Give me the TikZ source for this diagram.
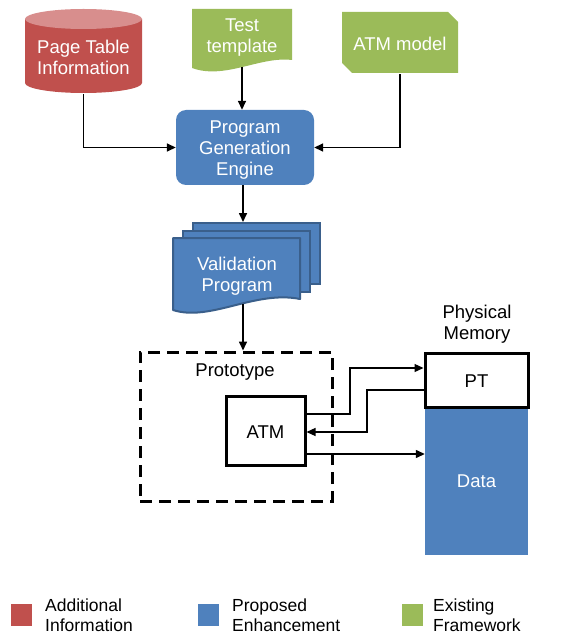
\documentclass[tikz,border=0pt]{standalone}
\usepackage{fontspec}
\setmainfont{Liberation Sans}
\usetikzlibrary{arrows.meta}
\definecolor{cred}{HTML}{C0504D}
\definecolor{credtop}{HTML}{D88E8D}
\definecolor{cblue}{HTML}{4F81BD}
\definecolor{cbluedark}{HTML}{3A5F8B}
\definecolor{cgreen}{HTML}{9BBB59}
\tikzset{
  txt/.style={font=\fontsize{18.5}{21}\selectfont, align=center, inner sep=0pt},
  wtxt/.style={txt, text=white},
  frame/.style={draw=black, line width=3pt, inner sep=0pt},
  conn/.style={line width=1.6pt, -{Triangle[length=9pt,width=8pt]}},
  thinconn/.style={line width=1.3pt, -{Triangle[length=9pt,width=8pt]}},
  legtxt/.style={font=\fontsize{17.5}{20}\selectfont, align=left, anchor=west, inner sep=0pt},
  swatch/.style={minimum width=21pt, minimum height=22pt, inner sep=0pt},
}
\begin{document}
\begin{tikzpicture}[x=1pt,y=-1pt]
\useasboundingbox (0,0) rectangle (570,636);

% Page table cylinder
\fill[cred] (25,19) -- (25,83) arc[start angle=180, end angle=360, x radius=58.5pt, y radius=10pt] -- (142,19) -- cycle;
\fill[credtop] (83.5,19) ellipse[x radius=58.5pt, y radius=10pt];
\node[wtxt, minimum width=117pt, minimum height=74pt] (pti) at (83.5,57) {Page Table\\Information};

% Test template document
\fill[cgreen] (192,9) -- (292,9) -- (292,60) .. controls (260,56) and (225,80) .. (192,68) -- cycle;
\node[wtxt] (tt) at (242,38) {Test\\template};
\coordinate (ttbot) at (242,67);

% ATM model (snipped corners)
\fill[cgreen] (342,12) -- (448,12) -- (458,22) -- (458,73) -- (352,73) -- (342,63) -- cycle;
\node[wtxt, minimum width=116pt, minimum height=61pt] (atmm) at (400,43.5) {ATM model};

% Program generation engine
\node[wtxt, fill=cblue, rounded corners=10pt, minimum width=138pt, minimum height=75pt, text depth=0pt] (pge) at (245,147.5) {};
\node[wtxt] (pgetxt) at (245,150.5) {Program\\Generation\\Engine};

% Validation program (stack of documents)
\node[fill=cblue, draw=cbluedark, line width=2pt, minimum width=127pt, minimum height=61pt, inner sep=0pt] (vback) at (256.5,253.5) {};
\node[fill=cblue, draw=cbluedark, line width=2pt, minimum width=127pt, minimum height=61pt, inner sep=0pt] (vmid) at (246.5,261.5) {};
\filldraw[fill=cblue, draw=cbluedark, line width=2pt, line join=round] (173,238) -- (300,238) -- (300,299) .. controls (255,290) and (210,322) .. (173,310) -- cycle;
\node[wtxt] (vfront) at (237,276) {Validation\\Program};
\coordinate (vbot) at (243,304);

% Prototype with ATM
\node[frame, dashed, dash pattern=on 12pt off 7pt, minimum width=192pt, minimum height=149pt] (proto) at (236,426.5) {};
\node[txt] (protolbl) at (235,372) {Prototype};
\node[frame, txt, minimum width=79pt, minimum height=69pt] (atm) at (265.5,430.5) {};
\node[txt] (atmlbl) at (265.5,432) {ATM};

% Physical memory
\node[txt] (pmlbl) at (477,324) {Physical\\Memory};
\node[fill=cblue, minimum width=103pt, minimum height=148pt, inner sep=0pt] (data) at (476.5,481) {};
\node[wtxt] (datalbl) at (476.5,481) {Data};
\node[frame, txt, fill=white, minimum width=103pt, minimum height=54pt] (pt) at (476.5,380) {};
\node[txt] (ptlbl) at (476.5,381) {PT};

% Connectors, upper flow
\draw[conn] (ttbot) -- (ttbot |- pge.north);
\draw[conn] (pti.south) |- (pge.west);
\draw[conn] (atmm.south) |- (pge.east);
\coordinate (vx) at (243,0);
\draw[conn] (vx |- pge.south) -- (vx |- vback.north);
\draw[conn] (vbot) -- (vbot |- proto.north);

% Connectors between ATM and memory
\draw[thinconn] (atm.east |- 0,414) -- (350,414) -- (350,368) -- (pt.west |- 0,368);
\draw[thinconn] (pt.west |- 0,390) -- (367,390) -- (367,432) -- (atm.east |- 0,432);
\draw[thinconn] (atm.east |- 0,454) -- (data.west |- 0,454);

% Legend
\node[swatch, fill=cred] (lr) at (21.5,615) {};
\node[legtxt] (lrt) at (45,615) {Additional\\Information};
\node[swatch, fill=cblue] (lb) at (208.5,615) {};
\node[legtxt] (lbt) at (232,615) {Proposed\\Enhancement};
\node[swatch, fill=cgreen] (lg) at (412,615) {};
\node[legtxt] (lgt) at (433,615) {Existing\\Framework};
\end{tikzpicture}
\end{document}
